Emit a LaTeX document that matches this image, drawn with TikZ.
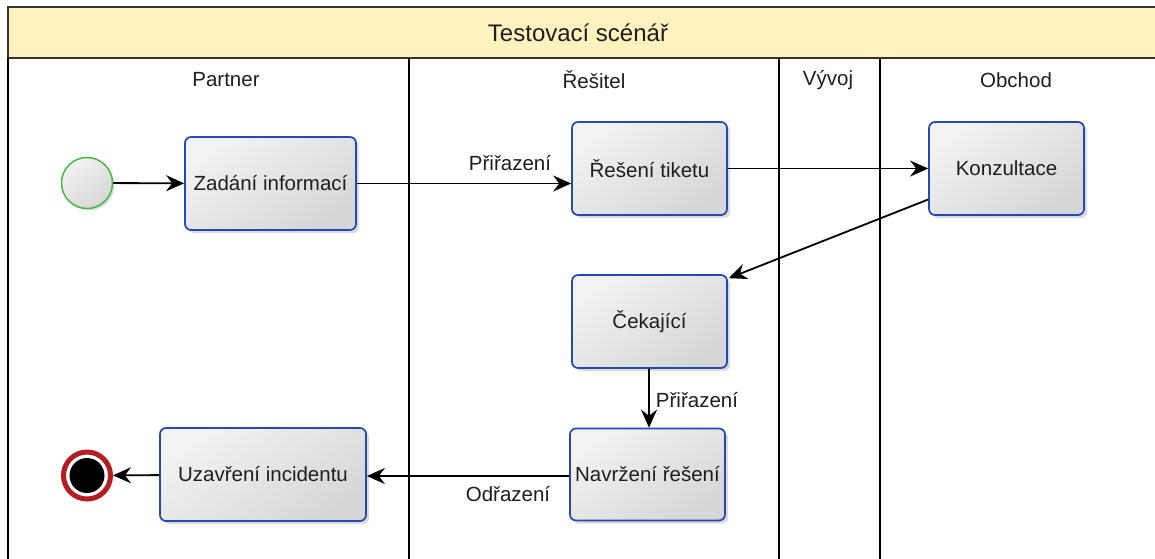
\documentclass[tikz,border=0pt]{standalone}
\usepackage{fontspec}
\setmainfont{Liberation Sans}
\usetikzlibrary{arrows.meta,shadows,calc}
\definecolor{hdrfill}{RGB}{255,242,190}
\definecolor{boxblue}{RGB}{38,72,176}
\definecolor{startgreen}{RGB}{70,185,70}
\definecolor{endred}{RGB}{180,30,35}
\definecolor{txt}{RGB}{30,30,30}
\tikzset{
  task/.style={draw=boxblue, line width=1.7pt, rounded corners=6pt, inner sep=0pt,
    minimum width=155pt, minimum height=93pt, text=txt,
    top color=white!95!black, bottom color=black!16, shading angle=35,
    drop shadow={opacity=0.28, shadow xshift=3pt, shadow yshift=-3pt},
    font=\fontsize{20.5}{24}\selectfont},
  startev/.style={circle, draw=startgreen, line width=1.5pt, minimum size=51pt, inner sep=0pt,
    top color=white!95!black, bottom color=black!16, shading angle=35,
    drop shadow={opacity=0.28, shadow xshift=2pt, shadow yshift=-2pt}},
  endev/.style={circle, draw=endred, line width=5pt, minimum size=47pt, inner sep=0pt, fill=white,
    drop shadow={opacity=0.28, shadow xshift=2pt, shadow yshift=-2pt}},
  flow/.style={line width=1.8pt, draw=black, -{Stealth[length=18pt,width=16pt,inset=6pt]}},
  lane/.style={line width=1.8pt, draw=black},
  lbl/.style={font=\fontsize{20.5}{24}\selectfont, text=txt, inner sep=0pt},
  lanelbl/.style={font=\fontsize{20.5}{24}\selectfont, text=txt, inner sep=0pt},
}
\begin{document}
\begin{tikzpicture}[x=1pt, y=-1pt]
\useasboundingbox (0,0) rectangle (1155,558);
\clip (0,0) rectangle (1155,558);
\fill[white] (0,0) rectangle (1155,558);
% header
\draw[fill=hdrfill, draw=black!80, line width=2.2pt] (8,7) rectangle (1170,58);
\node[font=\fontsize{24}{28}\selectfont, text=txt, inner sep=0pt] (title) at (578,33) {Testovací scénář};
% lanes
\draw[lane] (8,58) -- (8,570);
\draw[lane] (409,58) -- (409,570);
\draw[lane] (779,58) -- (779,570);
\draw[lane] (880,58) -- (880,570);
\node[lanelbl] (l1) at (226,80) {Partner};
\node[lanelbl] (l2) at (594,80) {Řešitel};
\node[lanelbl] (l3) at (828,80) {Vývoj};
\node[lanelbl] (l4) at (1016,80) {Obchod};
% nodes
\node[startev] (start) at (87,183) {};
\node[task, minimum width=171pt] (zad) at (270.5,183.5) {Zadání informací};
\node[task] (res) at (649.5,168.5) {Řešení tiketu};
\node[task] (kon) at (1006.5,168.5) {Konzultace};
\node[task] (cek) at (649.5,321.5) {Čekající};
\node[task, minimum height=92pt] (nav) at (647.5,474.5) {Navržení řešení};
\node[task, minimum width=206pt] (uza) at (263,474.5) {Uzavření incidentu};
\node[endev] (end) at (87,475.5) {};
\fill[black] (end.center) circle (17.5pt);
% flows
\draw[flow] (start) -- (zad);
\draw[flow] (zad.east) -- (zad.east -| res.west);
\node[lbl] (p1) at (510,163) {Přiřazení};
\draw[flow] (res) -- (kon);
\draw[flow] ([yshift=-31pt]kon.west) -- ([xshift=1pt,yshift=-4pt]cek.north east);
\coordinate (cb) at ([xshift=-0.5pt]cek.south);
\draw[flow] (cb) -- (cb |- nav.north);
\node[lbl] (p2) at (697,400) {Přiřazení};
\draw[flow] ([yshift=-1.5pt]nav.west) -- ([yshift=-1.5pt]uza.east);
\node[lbl] (p3) at (508,494) {Odřazení};
\draw[flow] (uza) -- (end);
\end{tikzpicture}
\end{document}
